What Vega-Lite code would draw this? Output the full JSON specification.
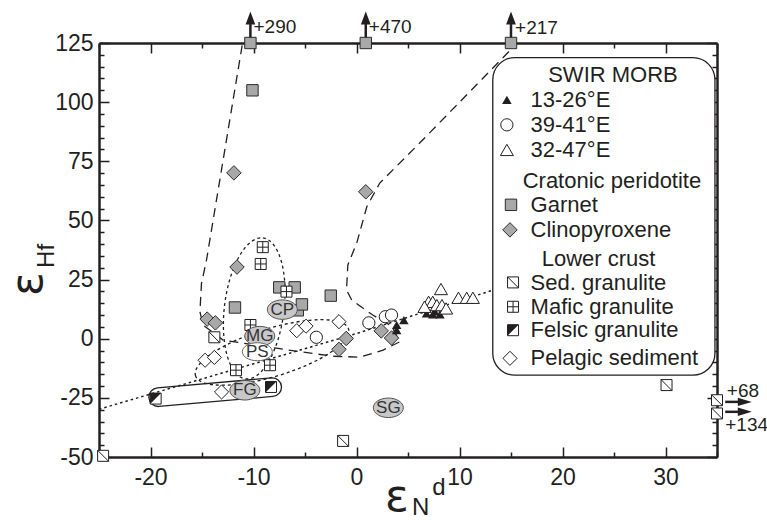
{
"$schema":"https://vega.github.io/schema/vega-lite/v6.json",
"width":618,"height":414,"autosize":"none",
"padding":{"left":99,"top":43,"right":50,"bottom":63},
"background":"white",
"config":{"view":{"stroke":null},"font":"Liberation Sans","text":{"font":"Liberation Sans","color":"#231f20"}},
"datasets":{
"pts":[
{"x":-10.3,"y":125,"g":"garnet"},{"x":-10.1,"y":105,"g":"garnet"},{"x":0.9,"y":125,"g":"garnet"},{"x":15.0,"y":125,"g":"garnet"},{"x":-11.8,"y":13.2,"g":"garnet"},{"x":-7.5,"y":21.7,"g":"garnet"},{"x":-6.0,"y":21.7,"g":"garnet"},{"x":-2.5,"y":18.2,"g":"garnet"},{"x":-5.7,"y":12.0,"g":"garnet"},{"x":-5.3,"y":14.5,"g":"garnet"},{"x":15.0,"y":56.6,"g":"garnet"},
{"x":-11.9,"y":70.1,"g":"cpx"},{"x":0.9,"y":62.1,"g":"cpx"},{"x":-11.6,"y":30.3,"g":"cpx"},{"x":-14.5,"y":8.3,"g":"cpx"},{"x":-13.7,"y":6.7,"g":"cpx"},{"x":-1.0,"y":0.1,"g":"cpx"},{"x":-1.7,"y":-4.5,"g":"cpx"},{"x":2.4,"y":3.3,"g":"cpx"},{"x":3.4,"y":0.3,"g":"cpx"},{"x":14.9,"y":46.0,"g":"cpx"},
{"x":-3.9,"y":0.6,"g":"m3941"},{"x":1.2,"y":6.7,"g":"m3941"},{"x":2.8,"y":9.3,"g":"m3941"},{"x":3.4,"y":10.0,"g":"m3941"},{"x":14.6,"y":90.4,"g":"m3941"},
{"x":3.9,"y":5.8,"g":"m1326"},{"x":4.6,"y":7.9,"g":"m1326"},{"x":3.9,"y":3.6,"g":"m1326"},{"x":6.8,"y":10.7,"g":"m1326"},{"x":7.4,"y":10.3,"g":"m1326"},{"x":8.1,"y":10.3,"g":"m1326"},{"x":7.6,"y":11.5,"g":"m1326"},{"x":14.6,"y":101.0,"g":"m1326"},
{"x":8.2,"y":21.0,"g":"m3247"},{"x":7.0,"y":15.6,"g":"m3247"},{"x":7.4,"y":15.6,"g":"m3247"},{"x":7.8,"y":14.2,"g":"m3247"},{"x":6.6,"y":13.5,"g":"m3247"},{"x":8.3,"y":14.2,"g":"m3247"},{"x":8.7,"y":12.8,"g":"m3247"},{"x":9.9,"y":17.3,"g":"m3247"},{"x":10.7,"y":17.3,"g":"m3247"},{"x":11.3,"y":17.3,"g":"m3247"},{"x":14.6,"y":79.8,"g":"m3247"},
{"x":-24.6,"y":-49.5,"g":"sed"},{"x":-13.8,"y":0.6,"g":"sed"},{"x":-1.3,"y":-43.2,"g":"sed"},{"x":30.1,"y":-19.6,"g":"sed"},{"x":35.0,"y":-26.0,"g":"sed"},{"x":35.0,"y":-31.6,"g":"sed"},{"x":15.2,"y":23.8,"g":"sed"},
{"x":-9.1,"y":38.7,"g":"mafic"},{"x":-9.3,"y":31.6,"g":"mafic"},{"x":-6.8,"y":19.9,"g":"mafic"},{"x":-10.3,"y":5.8,"g":"mafic"},{"x":-8.4,"y":-11.2,"g":"mafic"},{"x":-11.7,"y":-13.3,"g":"mafic"},{"x":15.2,"y":13.5,"g":"mafic"},
{"x":-19.5,"y":-25.3,"g":"felsic"},{"x":-8.3,"y":-20.4,"g":"felsic"},{"x":15.2,"y":3.6,"g":"felsic"},
{"x":-14.7,"y":-9.1,"g":"pelagic"},{"x":-13.8,"y":-7.9,"g":"pelagic"},{"x":-13.1,"y":-22.5,"g":"pelagic"},{"x":-5.8,"y":3.4,"g":"pelagic"},{"x":-4.9,"y":5.3,"g":"pelagic"},{"x":-1.7,"y":7.2,"g":"pelagic"},{"x":14.9,"y":-8.3,"g":"pelagic"}
],
"env":[
{"x":-11.1,"y":124,"o":1},{"x":-14.56,"y":33.3,"o":2},{"x":-15.05,"y":23.4,"o":3},{"x":-15.2,"y":11.4,"o":4},{"x":-14.9,"y":5.8,"o":5},{"x":-12.95,"y":-0.6,"o":6},{"x":-7.77,"y":-4.0,"o":7},{"x":-5.5,"y":-5.5,"o":8},{"x":-2.27,"y":-7.4,"o":9},{"x":0.32,"y":-7.8,"o":10},{"x":2.58,"y":-4.8,"o":11},{"x":4.2,"y":-1.3,"o":12},{"x":3.43,"y":5.3,"o":13},{"x":1.58,"y":10.0,"o":14},{"x":0.61,"y":13.0,"o":15},{"x":-0.46,"y":16.3,"o":16},{"x":-0.97,"y":20.6,"o":17},{"x":-0.84,"y":31.2,"o":18},{"x":0.03,"y":40.5,"o":19},{"x":1.0,"y":55.8,"o":20},{"x":2.26,"y":65.8,"o":21},{"x":6.15,"y":82.8,"o":22},{"x":15.5,"y":124.5,"o":23}
],
"mix":[{"x":-25,"y":-29.8,"o":1},{"x":0,"y":2.2,"o":2},{"x":13.3,"y":20.6,"o":3}],
"fields":[{"x":-9.93,"y":12.8,"k":"mg"},{"x":-8.2,"y":-5.8,"k":"ps"},{"x":-13.72,"y":-22.6,"k":"fg"}],
"ell":[{"x":-7.2,"y":12.3,"t":"CP","k":"gray"},{"x":-9.39,"y":1.1,"t":"MG","k":"gray"},{"x":-9.63,"y":-5.5,"t":"PS","k":"white"},{"x":-10.84,"y":-21.8,"t":"FG","k":"gray"},{"x":3.09,"y":-29.2,"t":"SG","k":"gray"}],
"upar":[{"x":-10.3,"y":125,"y2":133},{"x":0.9,"y":125,"y2":133},{"x":15.0,"y":125,"y2":133}],
"uphead":[{"x":-10.3,"y":135.6},{"x":0.9,"y":135.6},{"x":15.0,"y":135.6}],
"rar":[{"x":35.8,"x2":37.2,"y":-26.7},{"x":35.8,"x2":37.2,"y":-30.9}],
"rhead":[{"x":37.7,"y":-26.7},{"x":37.7,"y":-30.9}],
"arlbl":[{"x":-10.0,"y":131.9,"t":"+290"},{"x":1.2,"y":131.9,"t":"+470"},{"x":15.4,"y":131.5,"t":"+217"},{"x":35.95,"y":-22.2,"t":"+68"},{"x":35.8,"y":-36.6,"t":"+134"}],
"box":[{"x":13.23,"x2":34.8,"y":118.8,"y2":-15.4}],
"lhead":[{"x":24.9,"y":111.6,"t":"SWIR MORB"},{"x":24.8,"y":66.6,"t":"Cratonic peridotite"},{"x":23.5,"y":33.8,"t":"Lower crust"}],
"litem":[{"x":16.9,"y":101.0,"t":"13-26°E"},{"x":16.9,"y":90.4,"t":"39-41°E"},{"x":16.9,"y":79.8,"t":"32-47°E"},{"x":16.9,"y":56.4,"t":"Garnet"},{"x":16.9,"y":46.0,"t":"Clinopyroxene"},{"x":16.9,"y":23.6,"t":"Sed. granulite"},{"x":16.9,"y":13.5,"t":"Mafic granulite"},{"x":16.9,"y":3.6,"t":"Felsic granulite"},{"x":16.9,"y":-8.3,"t":"Pelagic sediment"}],
"eps":[{"x":3.91,"y":-67.2,"t":"ε","o":"h"},{"x":-31.8,"y":23.1,"t":"ε","o":"v"}],
"subs":[{"x":6.24,"y":-71.4,"t":"N","o":"h"},{"x":7.99,"y":-63.2,"t":"d","o":"h"},{"x":-30.07,"y":35.0,"t":"Hf","o":"v"}]
},
"encoding":{
"x":{"field":"x","type":"quantitative","scale":{"domain":[-25,35],"nice":false,"zero":false},"axis":null},
"y":{"field":"y","type":"quantitative","scale":{"domain":[-50,125],"nice":false,"zero":false},"axis":null}
},
"layer":[
{"data":{"name":"env"},"mark":{"type":"line","stroke":"#231f20","strokeWidth":1.3,"strokeDash":[9,6]},
 "encoding":{"order":{"field":"o","type":"quantitative"},
 "x":{"field":"x","type":"quantitative","scale":{"domain":[-25,35],"nice":false,"zero":false},
  "axis":{"orient":"bottom","title":null,"grid":false,"values":[-25,-20,-15,-10,-5,0,5,10,15,20,25,30,35],
   "tickSize":{"condition":{"test":"datum.value % 10 === 0","value":-10},"value":-5},
   "labelExpr":"datum.value % 10 === 0 ? '' + datum.value : ''","labelPadding":19,"labelFontSize":23,"labelColor":"#231f20","labelFont":"Liberation Sans",
   "labelFlush":false,"labelOverlap":false,"tickWidth":1.5,"tickColor":"#231f20","domainWidth":2.5,"domainColor":"#231f20"}},
 "y":{"field":"y","type":"quantitative","scale":{"domain":[-50,125],"nice":false,"zero":false},
  "axis":{"orient":"left","title":null,"grid":false,"values":[-50,-45,-40,-35,-30,-25,-20,-15,-10,-5,0,5,10,15,20,25,30,35,40,45,50,55,60,65,70,75,80,85,90,95,100,105,110,115,120,125],
   "tickSize":{"condition":{"test":"datum.value % 25 === 0","value":-10},"value":-5},
   "labelExpr":"datum.value % 25 === 0 ? '' + datum.value : ''","labelPadding":16,"labelFontSize":23,"labelColor":"#231f20","labelFont":"Liberation Sans",
   "labelFlush":false,"labelOverlap":false,"tickWidth":1.5,"tickColor":"#231f20","domainWidth":2.5,"domainColor":"#231f20"}}}},
{"data":{"name":"mix"},"mark":{"type":"line","stroke":"#231f20","strokeWidth":1.5,"strokeDash":[2.5,3]},
 "encoding":{"order":{"field":"o","type":"quantitative"},
 "x":{"field":"x","type":"quantitative","scale":{"domain":[-25,35],"nice":false,"zero":false},
  "axis":{"orient":"top","title":null,"grid":false,"labels":false,"values":[-25,-20,-15,-10,-5,0,5,10,15,20,25,30,35],
   "tickSize":{"condition":{"test":"datum.value % 10 === 0","value":-10},"value":-5},
   "tickWidth":1.5,"tickColor":"#231f20","domainWidth":2.5,"domainColor":"#231f20"}},
 "y":{"field":"y","type":"quantitative","scale":{"domain":[-50,125],"nice":false,"zero":false},
  "axis":{"orient":"right","title":null,"grid":false,"labels":false,"values":[-50,-45,-40,-35,-30,-25,-20,-15,-10,-5,0,5,10,15,20,25,30,35,40,45,50,55,60,65,70,75,80,85,90,95,100,105,110,115,120,125],
   "tickSize":{"condition":{"test":"datum.value % 25 === 0","value":-10},"value":-5},
   "tickWidth":1.5,"tickColor":"#231f20","domainWidth":2.5,"domainColor":"#231f20"}}}},
{"data":{"name":"fields"},"transform":[{"filter":"datum.k==='mg'"}],"mark":{"type":"point","shape":"M-1,0A1,0.42,0,0,1,1,0A1,0.42,0,0,1,-1,0Z","size":20164,"angle":97,"filled":false,"stroke":"#231f20","strokeWidth":1.3,"strokeDash":[3,3],"opacity":1}},
{"data":{"name":"fields"},"transform":[{"filter":"datum.k==='ps'"}],"mark":{"type":"point","shape":"M-1,0A1,0.3,0,0,1,1,0A1,0.3,0,0,1,-1,0Z","size":25600,"angle":-17,"filled":false,"stroke":"#231f20","strokeWidth":1.3,"strokeDash":[3,3],"opacity":1}},
{"data":{"name":"fields"},"transform":[{"filter":"datum.k==='fg'"}],"mark":{"type":"point","shape":"M-0.86,-0.14L0.86,-0.14A0.14,0.14,0,0,1,0.86,0.14L-0.86,0.14A0.14,0.14,0,0,1,-0.86,-0.14Z","size":17689,"angle":-5,"filled":false,"stroke":"#231f20","strokeWidth":1.3,"opacity":1}},
{"data":{"name":"upar"},"mark":{"type":"rule","stroke":"#231f20","strokeWidth":2.5},"encoding":{"y2":{"field":"y2"}}},
{"data":{"name":"uphead"},"mark":{"type":"point","shape":"M0,-1L0.75,1L-0.75,1Z","size":169,"filled":true,"fill":"#231f20","strokeWidth":0,"opacity":1}},
{"data":{"name":"rar"},"mark":{"type":"rule","stroke":"#231f20","strokeWidth":2.5},"encoding":{"x2":{"field":"x2"}}},
{"data":{"name":"rhead"},"mark":{"type":"point","shape":"M1,0L-1,0.6L-1,-0.6Z","size":196,"filled":true,"fill":"#231f20","strokeWidth":0,"opacity":1}},
{"data":{"name":"arlbl"},"mark":{"type":"text","align":"left","baseline":"middle","fontSize":19},"encoding":{"text":{"field":"t"}}},
{"data":{"name":"box"},"mark":{"type":"rect","fill":"white","stroke":"#231f20","strokeWidth":1.3,"cornerRadius":22},"encoding":{"x2":{"field":"x2"},"y2":{"field":"y2"}}},
{"data":{"name":"pts"},"transform":[{"filter":"datum.g==='garnet'"}],"mark":{"type":"point","shape":"square","filled":true,"fill":"#a8a8a8","stroke":"#2b2b2b","strokeWidth":1,"size":130,"opacity":1}},
{"data":{"name":"pts"},"transform":[{"filter":"datum.g==='cpx'"}],"mark":{"type":"point","shape":"diamond","filled":true,"fill":"#a8a8a8","stroke":"#2b2b2b","strokeWidth":1,"size":210,"opacity":1}},
{"data":{"name":"pts"},"transform":[{"filter":"datum.g==='pelagic'"}],"mark":{"type":"point","shape":"diamond","filled":true,"fill":"white","stroke":"#231f20","strokeWidth":1,"size":200,"opacity":1}},
{"data":{"name":"pts"},"transform":[{"filter":"datum.g==='m3941'"}],"mark":{"type":"point","shape":"circle","filled":true,"fill":"white","stroke":"#231f20","strokeWidth":1,"size":150,"opacity":1}},
{"data":{"name":"pts"},"transform":[{"filter":"datum.g==='m1326'"}],"mark":{"type":"point","shape":"triangle-up","filled":true,"fill":"#231f20","strokeWidth":0,"size":90,"opacity":1}},
{"data":{"name":"pts"},"transform":[{"filter":"datum.g==='m3247'"}],"mark":{"type":"point","shape":"triangle-up","filled":true,"fill":"white","stroke":"#231f20","strokeWidth":1,"size":170,"opacity":1}},
{"data":{"name":"pts"},"transform":[{"filter":"datum.g==='sed'"}],"mark":{"type":"point","shape":"M-1,-1H1V1H-1Z M-1,-1L1,1","filled":true,"fill":"white","stroke":"#231f20","strokeWidth":1,"size":121,"opacity":1}},
{"data":{"name":"pts"},"transform":[{"filter":"datum.g==='mafic'"}],"mark":{"type":"point","shape":"M-1,-1H1V1H-1Z M0,-1V1 M-1,0H1","filled":true,"fill":"white","stroke":"#231f20","strokeWidth":1,"size":121,"opacity":1}},
{"data":{"name":"pts"},"transform":[{"filter":"datum.g==='felsic'"}],"mark":{"type":"point","shape":"square","filled":true,"fill":"white","stroke":"#231f20","strokeWidth":1,"size":121,"opacity":1}},
{"data":{"name":"pts"},"transform":[{"filter":"datum.g==='felsic'"}],"mark":{"type":"point","shape":"M-1,-1L1,-1L-1,1Z","filled":true,"fill":"#231f20","strokeWidth":0,"size":121,"opacity":1}},
{"data":{"name":"ell"},"transform":[{"filter":"datum.k==='gray'"}],"mark":{"type":"point","shape":"M-1,0A1,0.65,0,0,1,1,0A1,0.65,0,0,1,-1,0Z","size":900,"filled":true,"fill":"#c8c8c8","stroke":"#555555","strokeWidth":1,"opacity":1}},
{"data":{"name":"ell"},"transform":[{"filter":"datum.k==='white'"}],"mark":{"type":"point","shape":"M-1,0A1,0.6,0,0,1,1,0A1,0.6,0,0,1,-1,0Z","size":900,"filled":true,"fill":"white","stroke":"#666666","strokeWidth":1,"opacity":1}},
{"data":{"name":"ell"},"mark":{"type":"text","align":"center","baseline":"middle","fontSize":17,"color":"#333333"},"encoding":{"text":{"field":"t"}}},
{"data":{"name":"lhead"},"mark":{"type":"text","align":"center","baseline":"middle","fontSize":22},"encoding":{"text":{"field":"t"}}},
{"data":{"name":"litem"},"mark":{"type":"text","align":"left","baseline":"middle","fontSize":22},"encoding":{"text":{"field":"t"}}},
{"data":{"name":"eps"},"transform":[{"filter":"datum.o==='h'"}],"mark":{"type":"text","align":"center","baseline":"middle","fontSize":44,"font":"DejaVu Sans"},"encoding":{"text":{"field":"t"}}},
{"data":{"name":"eps"},"transform":[{"filter":"datum.o==='v'"}],"mark":{"type":"text","align":"center","baseline":"middle","fontSize":44,"font":"DejaVu Sans","angle":-90},"encoding":{"text":{"field":"t"}}},
{"data":{"name":"subs"},"transform":[{"filter":"datum.o==='h'"}],"mark":{"type":"text","align":"center","baseline":"middle","fontSize":24},"encoding":{"text":{"field":"t"}}},
{"data":{"name":"subs"},"transform":[{"filter":"datum.o==='v'"}],"mark":{"type":"text","align":"center","baseline":"middle","fontSize":24,"angle":-90},"encoding":{"text":{"field":"t"}}}
],
"resolve":{"axis":{"x":"independent","y":"independent"}}
}
